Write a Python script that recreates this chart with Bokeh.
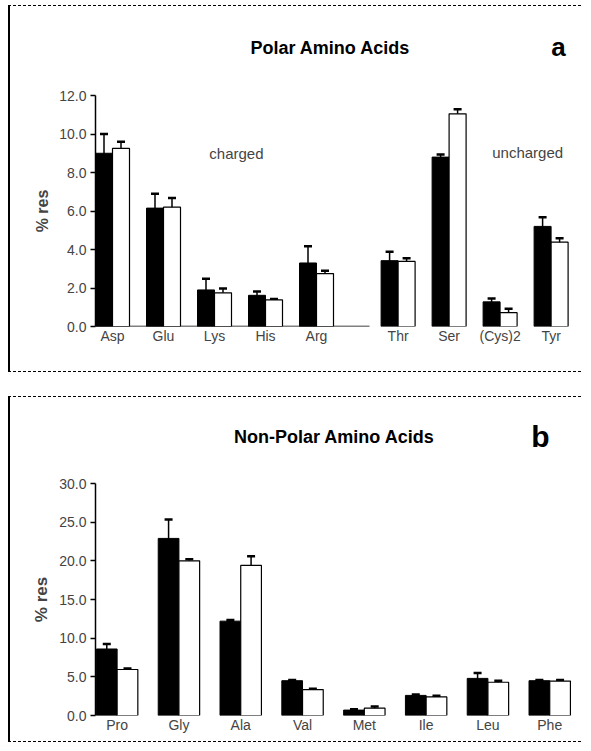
from bokeh.plotting import figure
from bokeh.models import FixedTicker, Whisker, ColumnDataSource, Label, TeeHead, Range1d, PrintfTickFormatter, Spacer
from bokeh.layouts import column, row
from bokeh.embed import file_html
from bokeh.resources import INLINE
from bokeh.core.properties import value

# ---------------- data ----------------
polar_charged = ["Asp", "Glu", "Lys", "His", "Arg"]
polar_uncharged = ["Thr", "Ser", "(Cys)2", "Tyr"]
polar_black = [9.0, 6.15, 1.9, 1.62, 3.3, 3.42, 8.8, 1.28, 5.2]
polar_black_err = [1.0, 0.75, 0.58, 0.2, 0.87, 0.46, 0.14, 0.17, 0.47]
polar_white = [9.25, 6.2, 1.75, 1.38, 2.75, 3.38, 11.05, 0.72, 4.38]
polar_white_err = [0.35, 0.48, 0.22, 0.05, 0.15, 0.17, 0.23, 0.2, 0.2]
polar_yticks = [0, 2, 4, 6, 8, 10, 12]

nonpolar = ["Pro", "Gly", "Ala", "Val", "Met", "Ile", "Leu", "Phe"]
nonpolar_black = [8.6, 22.9, 12.2, 4.5, 0.7, 2.6, 4.8, 4.5]
nonpolar_black_err = [0.65, 2.45, 0.15, 0.1, 0.1, 0.1, 0.7, 0.1]
nonpolar_white = [5.95, 20.0, 19.4, 3.35, 0.95, 2.4, 4.3, 4.45]
nonpolar_white_err = [0.12, 0.2, 1.2, 0.1, 0.2, 0.15, 0.2, 0.15]
nonpolar_yticks = [0, 5, 10, 15, 20, 25, 30]

FONT = "Liberation Sans"
W = 573
LEFT = 85
RIGHT = 8
BORDER_TOP = {"border-left": "2px solid black", "border-top": "1px dashed black"}
BORDER_BOTTOM = {"border-left": "2px solid black", "border-bottom": "1px dashed black"}


def header(title, letter, tx, ty, lx, ly, letter_size):
    # header strip: x in canvas pixels (frame aligned with the panel below)
    h = figure(width=W, height=60, output_backend="svg", toolbar_location=None,
               x_range=Range1d(LEFT, W - RIGHT), y_range=Range1d(0, 60),
               x_axis_location=None, y_axis_location=None,
               min_border_left=LEFT, min_border_right=RIGHT,
               min_border_top=0, min_border_bottom=0)
    h.grid.visible = False
    h.outline_line_color = None
    h.text(x=[tx], y=[ty], text=[title], text_align="center", text_baseline="middle",
           text_font=value(FONT), text_font_style="bold", text_font_size="18px", text_color="black")
    h.text(x=[lx], y=[ly], text=[letter], text_align="center", text_baseline="middle",
           text_font=value(FONT), text_font_style="bold", text_font_size=letter_size, text_color="black")
    h.styles = BORDER_TOP
    return h


def style_panel(p, yticks, ylabel_size):
    p.grid.visible = False
    p.outline_line_color = None
    p.background_fill_color = "white"
    p.border_fill_color = "white"
    ya = p.yaxis[0]
    ya.ticker = FixedTicker(ticks=yticks)
    ya.formatter = PrintfTickFormatter(format="%.1f")
    ya.axis_label = "% res"
    ya.axis_label_text_font = FONT
    ya.axis_label_text_font_style = "bold"
    ya.axis_label_text_font_size = ylabel_size
    ya.axis_label_standoff = 5
    ya.major_label_text_font = FONT
    ya.major_label_text_font_size = "14px"
    ya.major_tick_out = 5
    ya.major_tick_in = 0
    ya.minor_tick_line_color = None
    ya.axis_line_width = 1.5
    ya.major_tick_line_width = 1.5
    ya.major_label_standoff = 4
    xa = p.xaxis[0]
    xa.axis_line_color = None
    xa.major_tick_line_color = None
    xa.major_tick_out = 0
    xa.major_tick_in = 0
    xa.minor_tick_line_color = None
    xa.major_label_standoff = 1
    xa.major_label_text_font = FONT
    xa.major_label_text_font_size = "14px"
    p.styles = BORDER_BOTTOM


def draw_bars(p, pos, black, black_err, white, white_err, bw):
    xb = [x - bw / 2 for x in pos]
    xw = [x + bw / 2 for x in pos]
    p.vbar(x=xb, top=black, width=bw, bottom=0, fill_color="black", line_color="black")
    p.vbar(x=xw, top=white, width=bw, bottom=0, fill_color="white", line_color="black", line_width=1.2)
    sb = ColumnDataSource(dict(x=xb, lo=[v - e for v, e in zip(black, black_err)],
                               hi=[v + e for v, e in zip(black, black_err)]))
    sw = ColumnDataSource(dict(x=xw, lo=[v - e for v, e in zip(white, white_err)],
                               hi=[v + e for v, e in zip(white, white_err)]))
    for s in (sb, sw):
        w = Whisker(source=s, base="x", upper="hi", lower="lo", dimension="height",
                    line_color="black", line_width=1.5,
                    upper_head=TeeHead(size=8, line_width=2.5, line_color="black"),
                    lower_head=TeeHead(size=8, line_width=2.5, line_color="black"))
        p.add_layout(w)


# ---------------- panel a ----------------
pos_a = [float(i) for i in range(len(polar_charged))] + \
        [len(polar_charged) + 0.6 + k for k in range(len(polar_uncharged))]
names_a = polar_charged + polar_uncharged
bw_a = 1 / 3

head_a = header("Polar Amino Acids", "a", 320, 19, 548, 20, "26px")

pa = figure(width=W, height=307, output_backend="svg", toolbar_location=None,
            x_range=Range1d(-bw_a, -bw_a + 480 / 51), y_range=Range1d(0, 12),
            min_border_left=LEFT, min_border_right=RIGHT, min_border_top=30, min_border_bottom=46)
style_panel(pa, polar_yticks, "16px")
pa.xaxis[0].ticker = FixedTicker(ticks=pos_a)
pa.xaxis[0].major_label_overrides = {x: n for x, n in zip(pos_a, names_a)}
pa.segment(x0=[pos_a[0] - bw_a], x1=[pos_a[len(polar_charged) - 1] + 1.04], y0=[0], y1=[0],
           line_color="black", line_width=1.5)
draw_bars(pa, pos_a, polar_black, polar_black_err, polar_white, polar_white_err, bw_a)
pa.add_layout(Label(x=2.43, y=9.0, text="charged", text_align="center", text_baseline="middle",
                    text_font=FONT, text_font_size="15px"))
pa.add_layout(Label(x=8.14, y=9.04, text="uncharged", text_align="center", text_baseline="middle",
                    text_font=FONT, text_font_size="15px"))

# ---------------- panel b ----------------
pos_b = [float(i) for i in range(len(nonpolar))]
bw_b = 0.335

head_b = header("Non-Polar Amino Acids", "b", 324, 21, 530, 21, "30px")

pb = figure(width=W, height=286, output_backend="svg", toolbar_location=None,
            x_range=Range1d(-0.35, -0.35 + 480 / 61.8), y_range=Range1d(0, 30),
            min_border_left=LEFT, min_border_right=RIGHT, min_border_top=27, min_border_bottom=27)
style_panel(pb, nonpolar_yticks, "17px")
pb.xaxis[0].ticker = FixedTicker(ticks=pos_b)
pb.xaxis[0].major_label_overrides = {x: n for x, n in zip(pos_b, nonpolar)}
draw_bars(pb, pos_b, nonpolar_black, nonpolar_black_err, nonpolar_white, nonpolar_white_err, bw_b)

stack = column(Spacer(height=5), head_a, pa, Spacer(height=24), head_b, pb, spacing=0)
layout = row(Spacer(width=8), stack, spacing=0)
open("out.html", "w").write(file_html(layout, INLINE))
